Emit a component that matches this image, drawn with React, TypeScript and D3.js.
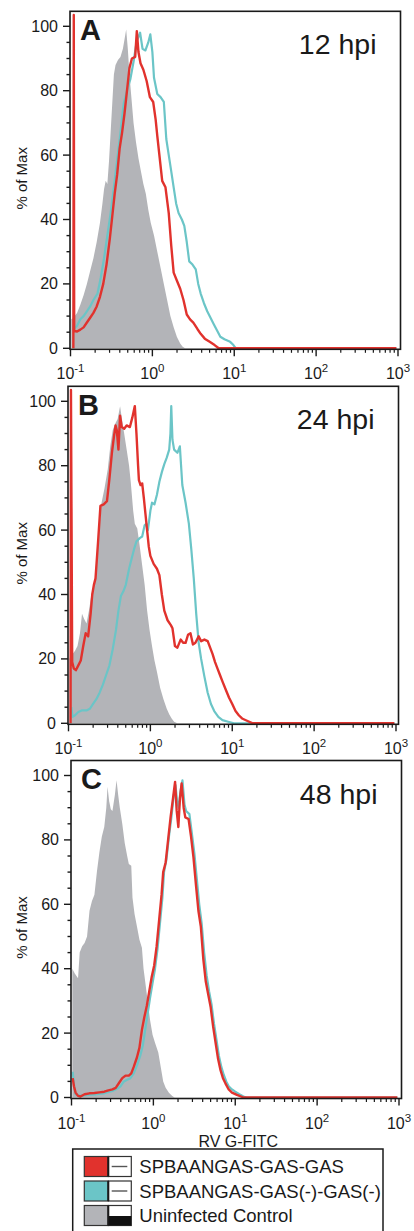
import React, { useEffect, useRef } from 'react';
import * as d3 from 'd3';

// Each histogram point: [log10 of RV G-FITC intensity, % of Max]
const control12 = [[-0.99, 9], [-0.965, 9.5], [-0.92, 11], [-0.88, 13.5], [-0.84, 16.5], [-0.8, 20], [-0.76, 24], [-0.72, 28], [-0.68, 33], [-0.64, 39], [-0.61, 45], [-0.59, 49.5], [-0.57, 52], [-0.55, 51], [-0.53, 58], [-0.51, 67], [-0.49, 76], [-0.47, 85], [-0.45, 88], [-0.42, 89.5], [-0.39, 90.5], [-0.36, 93], [-0.34, 96], [-0.32, 99], [-0.3, 93], [-0.28, 85], [-0.26, 79], [-0.23, 70], [-0.2, 64], [-0.17, 59], [-0.14, 55], [-0.11, 51], [-0.08, 48], [-0.05, 43], [-0.02, 39], [0.02, 35], [0.06, 30], [0.1, 25], [0.14, 20], [0.18, 15], [0.22, 10], [0.26, 6.5], [0.3, 3.5], [0.34, 1.5], [0.37, 0.5], [0.4, 0]];
const gasNeg12 = [[-0.96, 6], [-0.92, 7], [-0.88, 9], [-0.84, 10], [-0.8, 11.5], [-0.76, 13], [-0.72, 15], [-0.67, 17], [-0.63, 22], [-0.59, 28], [-0.55, 35], [-0.51, 42], [-0.47, 50], [-0.43, 58.5], [-0.39, 67], [-0.35, 76], [-0.31, 80], [-0.27, 83.5], [-0.23, 89], [-0.19, 95.5], [-0.15, 98], [-0.12, 93], [-0.085, 92.5], [-0.05, 95], [-0.025, 97.5], [0.0, 92], [0.02, 84], [0.06, 79], [0.1, 78], [0.14, 76.5], [0.17, 65], [0.2, 60], [0.23, 55], [0.26, 50], [0.29, 45], [0.32, 42], [0.36, 40], [0.39, 38], [0.42, 33], [0.45, 27], [0.49, 26], [0.53, 24.5], [0.56, 20], [0.59, 17], [0.63, 14], [0.67, 11.5], [0.71, 9.5], [0.75, 7.5], [0.79, 5.5], [0.83, 3.6], [0.88, 2.8], [0.95, 2], [0.99, 1], [1.02, 0], [2.98, 0]];
const gasGas12 = [[-0.965, 0], [-0.96, 103.5], [-0.955, 5.5], [-0.92, 5.2], [-0.88, 5.8], [-0.84, 6.5], [-0.8, 8], [-0.76, 9.5], [-0.72, 11], [-0.68, 13], [-0.64, 16], [-0.6, 20], [-0.56, 26], [-0.52, 34], [-0.49, 41], [-0.46, 48], [-0.43, 54], [-0.4, 62], [-0.37, 67], [-0.34, 73], [-0.31, 80], [-0.28, 87], [-0.25, 90], [-0.21, 90.5], [-0.19, 98.5], [-0.17, 92], [-0.145, 88.5], [-0.11, 86.5], [-0.07, 83], [-0.03, 78], [0.01, 76.5], [0.04, 71], [0.06, 66], [0.09, 59], [0.12, 52], [0.16, 50], [0.2, 42], [0.23, 32], [0.26, 23.5], [0.3, 21], [0.34, 18.5], [0.38, 15], [0.42, 10.5], [0.46, 9], [0.5, 8], [0.55, 6], [0.59, 4.5], [0.64, 3], [0.7, 2], [0.76, 1], [0.81, 0], [2.98, 0]];

const control24 = [[-0.99, 20], [-0.975, 21], [-0.95, 21.5], [-0.92, 22.5], [-0.89, 24], [-0.86, 28], [-0.835, 34], [-0.81, 32.5], [-0.78, 31], [-0.75, 35], [-0.72, 40], [-0.69, 43], [-0.66, 47], [-0.63, 58], [-0.6, 68], [-0.56, 73], [-0.52, 79], [-0.49, 86], [-0.46, 91], [-0.43, 93], [-0.4, 94.5], [-0.37, 98.5], [-0.35, 95], [-0.32, 90], [-0.29, 85], [-0.26, 80], [-0.24, 75], [-0.21, 66], [-0.19, 62], [-0.16, 60.5], [-0.13, 55], [-0.1, 49], [-0.07, 43], [-0.04, 35], [-0.01, 29], [0.02, 24], [0.05, 19.5], [0.08, 16], [0.12, 11], [0.16, 7.5], [0.2, 4.5], [0.23, 2.8], [0.26, 1.5], [0.29, 0.5], [0.33, 0]];
const gasNeg24 = [[-0.965, 5], [-0.95, 2], [-0.92, 2.5], [-0.88, 3.5], [-0.84, 4], [-0.78, 4], [-0.74, 4.5], [-0.7, 6], [-0.66, 7.5], [-0.62, 9.5], [-0.58, 12], [-0.54, 15], [-0.5, 18], [-0.46, 23], [-0.42, 29], [-0.39, 35], [-0.36, 39.5], [-0.33, 41], [-0.3, 43], [-0.26, 48], [-0.23, 51], [-0.2, 54], [-0.17, 56.5], [-0.13, 57.5], [-0.1, 58], [-0.07, 61.5], [-0.05, 62], [-0.03, 60], [0.0, 66], [0.02, 68.5], [0.05, 68], [0.08, 71], [0.11, 75], [0.14, 78], [0.17, 80.5], [0.2, 82.5], [0.23, 85], [0.245, 90], [0.255, 98.5], [0.27, 88], [0.29, 85], [0.33, 84], [0.36, 86], [0.39, 74], [0.43, 68.5], [0.47, 62], [0.5, 54], [0.53, 45], [0.56, 34], [0.59, 25], [0.62, 20], [0.66, 14.5], [0.7, 9.5], [0.74, 6], [0.78, 3.8], [0.83, 2], [0.88, 1], [0.95, 0.5], [1.02, 0], [2.98, 0]];
const gasGas24 = [[-0.975, 0], [-0.97, 103.5], [-0.955, 19], [-0.935, 17], [-0.91, 16.5], [-0.88, 18], [-0.85, 19.5], [-0.82, 24], [-0.79, 28], [-0.76, 27], [-0.73, 34], [-0.71, 40], [-0.69, 43], [-0.67, 45], [-0.64, 56], [-0.61, 67.5], [-0.57, 68], [-0.53, 69], [-0.5, 76], [-0.47, 84], [-0.445, 89], [-0.425, 92.5], [-0.41, 91], [-0.39, 85], [-0.37, 95.5], [-0.35, 92], [-0.32, 91.5], [-0.29, 92.5], [-0.25, 92], [-0.22, 95], [-0.19, 98.5], [-0.17, 90], [-0.15, 80], [-0.14, 75.5], [-0.12, 74], [-0.1, 74.5], [-0.08, 70], [-0.06, 65], [-0.04, 60], [-0.02, 55], [0.0, 52], [0.04, 49.5], [0.08, 48], [0.11, 46], [0.14, 40], [0.17, 35], [0.21, 32], [0.25, 30.5], [0.27, 29.5], [0.3, 24], [0.33, 23.5], [0.37, 26], [0.4, 25], [0.43, 25], [0.46, 27.5], [0.49, 28], [0.52, 24.5], [0.55, 25], [0.59, 27], [0.62, 25.5], [0.66, 26], [0.7, 25.5], [0.73, 23.5], [0.76, 21.5], [0.79, 19], [0.82, 17], [0.85, 15], [0.88, 13], [0.92, 10.5], [0.96, 8], [1.0, 6], [1.04, 3.8], [1.08, 2.5], [1.12, 1.5], [1.18, 0.8], [1.25, 0], [2.98, 0]];

const control48 = [[-0.99, 40], [-0.96, 38.5], [-0.92, 37], [-0.9, 45], [-0.87, 47], [-0.84, 48], [-0.81, 50], [-0.78, 58], [-0.75, 61], [-0.72, 63], [-0.69, 70], [-0.66, 76], [-0.63, 81], [-0.6, 84], [-0.575, 90], [-0.56, 96.5], [-0.54, 92], [-0.52, 89.5], [-0.5, 89], [-0.47, 94], [-0.45, 98.5], [-0.43, 94], [-0.41, 90], [-0.38, 85], [-0.35, 79], [-0.32, 75], [-0.3, 72.5], [-0.27, 72], [-0.255, 62], [-0.23, 57], [-0.2, 53], [-0.17, 49], [-0.14, 46.5], [-0.12, 40], [-0.1, 36], [-0.07, 30], [-0.04, 24], [-0.01, 19.5], [0.02, 17], [0.06, 14], [0.09, 9.5], [0.12, 5], [0.15, 3], [0.19, 1.5], [0.23, 0.5], [0.26, 0]];
const gasNeg48 = [[-0.985, 8], [-0.97, 4], [-0.95, 1], [-0.9, 0.5], [-0.8, 0.8], [-0.7, 1], [-0.6, 1.3], [-0.5, 2], [-0.44, 2.8], [-0.4, 3.5], [-0.36, 5], [-0.32, 5.5], [-0.28, 6], [-0.24, 7.5], [-0.2, 10], [-0.16, 13], [-0.13, 16], [-0.1, 21], [-0.07, 26], [-0.04, 31], [-0.01, 35.5], [0.02, 40], [0.05, 46], [0.08, 54], [0.11, 62], [0.13, 70], [0.16, 74], [0.19, 81], [0.22, 87], [0.25, 94], [0.27, 97], [0.29, 92], [0.31, 90], [0.33, 95], [0.355, 98.5], [0.38, 91], [0.4, 89], [0.44, 88], [0.47, 82], [0.5, 76], [0.53, 68], [0.56, 60], [0.59, 54], [0.62, 45], [0.65, 38], [0.68, 33], [0.71, 29], [0.74, 23], [0.77, 18], [0.8, 13], [0.83, 9.5], [0.86, 7], [0.89, 5], [0.92, 3.5], [0.96, 2.5], [1.0, 1.8], [1.05, 1], [1.1, 0.3], [1.14, 0], [2.98, 0]];
const gasGas48 = [[-0.985, 6], [-0.97, 3.5], [-0.95, 1.5], [-0.92, 0.5], [-0.89, 0.3], [-0.84, 1], [-0.78, 1.3], [-0.72, 1.4], [-0.66, 1.6], [-0.6, 1.8], [-0.55, 2.2], [-0.5, 2.5], [-0.46, 3], [-0.42, 4.5], [-0.38, 6], [-0.34, 6.8], [-0.3, 6.8], [-0.27, 7.5], [-0.24, 9.5], [-0.2, 12.5], [-0.17, 15.5], [-0.14, 21], [-0.11, 25], [-0.08, 28.5], [-0.05, 33], [-0.02, 37.5], [0.01, 41], [0.04, 47], [0.07, 55], [0.1, 63], [0.12, 70], [0.15, 73], [0.18, 80], [0.21, 87], [0.24, 93], [0.265, 98], [0.285, 89], [0.305, 84], [0.325, 93], [0.345, 97.5], [0.37, 90], [0.39, 87], [0.43, 86.5], [0.46, 81], [0.49, 74.5], [0.52, 66], [0.55, 58], [0.58, 53], [0.61, 43], [0.64, 36], [0.67, 32], [0.7, 28], [0.73, 22], [0.76, 17], [0.79, 12], [0.82, 8.5], [0.85, 6], [0.88, 4.4], [0.92, 2.5], [0.96, 1.5], [1.02, 0.8], [1.1, 0], [2.98, 0]];

const panelLetters = ['A', 'B', 'C'];
const timeLabels = ['12 hpi', '24 hpi', '48 hpi'];
const controlSeries = [control12, control24, control48];
const gasNegSeries = [gasNeg12, gasNeg24, gasNeg48];
const gasGasSeries = [gasGas12, gasGas24, gasGas48];

const pctTicks = [0, 20, 40, 60, 80, 100];
const decadeExps = [-1, 0, 1, 2, 3];
const legendLabels = ['SPBAANGAS-GAS-GAS', 'SPBAANGAS-GAS(-)-GAS(-)', 'Uninfected Control'];

const RED = '#e1322d';
const CYAN = '#6bc5c7';
const GRAY = '#b3b4b8';
const INK = '#1a1a1a';
const FONT = '"Liberation Sans", Arial, sans-serif';

// where each panel sits: x of 10^-1, y of 0 %
const panelPos = [
  { x0: 70.5, y0: 348.3 },
  { x0: 68.5, y0: 723.3 },
  { x0: 71.5, y0: 1097.5 },
];

const W = 414;
const H = 1231;

export default function App() {
  const ref = useRef(null);

  useEffect(() => {
    const svg = d3.select(ref.current);
    svg.selectAll('*').remove();
    svg.append('rect').attr('width', W).attr('height', H).attr('fill', '#fff');

    panelPos.forEach((p, i) => {
      const x = d3.scaleLog().domain([0.1, 1000]).range([p.x0, p.x0 + 327.5]);
      const y = d3.scaleLinear().domain([0, 100]).range([p.y0, p.y0 - 322]);
      const left = p.x0 - 0.5;
      const right = p.x0 + 330;
      const top = p.y0 - 337;
      const bottom = p.y0 + 1;
      const g = svg.append('g');

      const area = d3.area()
        .x(d => x(10 ** d[0]))
        .y0(y(0))
        .y1(d => y(d[1]));
      const line = d3.line()
        .x(d => x(10 ** d[0]))
        .y(d => y(d[1]));

      g.append('path').attr('d', area(controlSeries[i])).attr('fill', GRAY);
      g.append('path').attr('d', line(gasNegSeries[i]))
        .attr('fill', 'none').attr('stroke', CYAN).attr('stroke-width', 2.2).attr('stroke-linejoin', 'round');
      g.append('path').attr('d', line(gasGasSeries[i]))
        .attr('fill', 'none').attr('stroke', RED).attr('stroke-width', 2.4).attr('stroke-linejoin', 'round');

      // frame
      g.append('rect')
        .attr('x', left).attr('y', top)
        .attr('width', right - left).attr('height', bottom - top)
        .attr('fill', 'none').attr('stroke', INK).attr('stroke-width', 1.6);

      // y ticks: majors every 20, minors every 5
      d3.range(0, 101, 5).forEach(v => {
        const major = v % 20 === 0;
        g.append('line')
          .attr('x1', left - (major ? 7 : 3.5)).attr('x2', left)
          .attr('y1', y(v)).attr('y2', y(v))
          .attr('stroke', INK).attr('stroke-width', 1.4);
      });
      g.selectAll('.ylab').data(pctTicks).enter().append('text')
        .attr('x', left - 12).attr('y', d => y(d) + 5.5)
        .attr('text-anchor', 'end')
        .style('font-family', FONT).style('font-size', '16px').style('fill', INK)
        .text(d => d);

      // x ticks: decades plus 2..9 minors
      decadeExps.forEach(e => {
        g.append('line')
          .attr('x1', x(10 ** e)).attr('x2', x(10 ** e))
          .attr('y1', bottom).attr('y2', bottom + 7)
          .attr('stroke', INK).attr('stroke-width', 1.4);
        if (e < 3) {
          d3.range(2, 10).forEach(m => {
            g.append('line')
              .attr('x1', x(m * 10 ** e)).attr('x2', x(m * 10 ** e))
              .attr('y1', bottom).attr('y2', bottom + 3.5)
              .attr('stroke', INK).attr('stroke-width', 1.2);
          });
        }
        const t = g.append('text')
          .attr('x', x(10 ** e)).attr('y', p.y0 + 31)
          .attr('text-anchor', 'middle')
          .style('font-family', FONT).style('font-size', '16px').style('fill', INK);
        t.append('tspan').text('10');
        t.append('tspan').attr('dy', -7).style('font-size', '11.5px').text(e);
      });

      g.append('text')
        .attr('transform', `translate(27, ${(y(0) + y(100)) / 2 - 9}) rotate(-90)`)
        .attr('text-anchor', 'middle')
        .style('font-family', FONT).style('font-size', '15px').style('fill', INK)
        .text('% of Max');

      g.append('text')
        .attr('x', left + 10).attr('y', top + 28.5)
        .style('font-family', FONT).style('font-size', '29px').style('font-weight', 'bold').style('fill', INK)
        .text(panelLetters[i]);

      g.append('text')
        .attr('x', right - 24).attr('y', top + 43)
        .attr('text-anchor', 'end')
        .style('font-family', FONT).style('font-size', '28.5px').style('fill', INK)
        .text(timeLabels[i]);

      if (i === 2) {
        g.append('text')
          .attr('x', 238.3).attr('y', 1146.8)
          .attr('text-anchor', 'middle')
          .style('font-family', FONT).style('font-size', '16px').style('fill', INK)
          .text('RV G-FITC');
      }
    });

    // legend
    const legend = svg.append('g');
    legend.append('rect')
      .attr('x', 72.7).attr('y', 1149).attr('width', 310.3).attr('height', 100)
      .attr('fill', '#fff').attr('stroke', INK).attr('stroke-width', 1.5);
    const swatchColors = [RED, CYAN, GRAY];
    legendLabels.forEach((label, i) => {
      const base = 1173 + i * 24.5;
      const top = base - 16.5;
      legend.append('rect')
        .attr('x', 84.3).attr('y', top).attr('width', 24).attr('height', 20)
        .attr('fill', swatchColors[i]).attr('stroke', '#333').attr('stroke-width', 1.2);
      legend.append('rect')
        .attr('x', 108.3).attr('y', top).attr('width', 23).attr('height', 20)
        .attr('fill', '#fff').attr('stroke', '#333').attr('stroke-width', 1.2);
      if (i < 2) {
        legend.append('line')
          .attr('x1', 111.7).attr('x2', 127.3).attr('y1', top + 10).attr('y2', top + 10)
          .attr('stroke', '#555').attr('stroke-width', 1.4);
      } else {
        legend.append('rect')
          .attr('x', 108.3).attr('y', top + 10.5).attr('width', 23).attr('height', 9.5)
          .attr('fill', '#111');
      }
      legend.append('line')
        .attr('x1', 108.3).attr('x2', 108.3).attr('y1', top).attr('y2', top + 20)
        .attr('stroke', INK).attr('stroke-width', 2);
      legend.append('text')
        .attr('x', 139.3).attr('y', base)
        .style('font-family', FONT).style('font-size', '18.5px').style('fill', INK)
        .text(label);
    });
  }, []);

  return (
    <div style={{ position: 'absolute', left: 0, top: 0, width: W, height: H, overflow: 'hidden' }}>
      <svg ref={ref} width={W} height={H} viewBox={`0 0 ${W} ${H}`} />
    </div>
  );
}
